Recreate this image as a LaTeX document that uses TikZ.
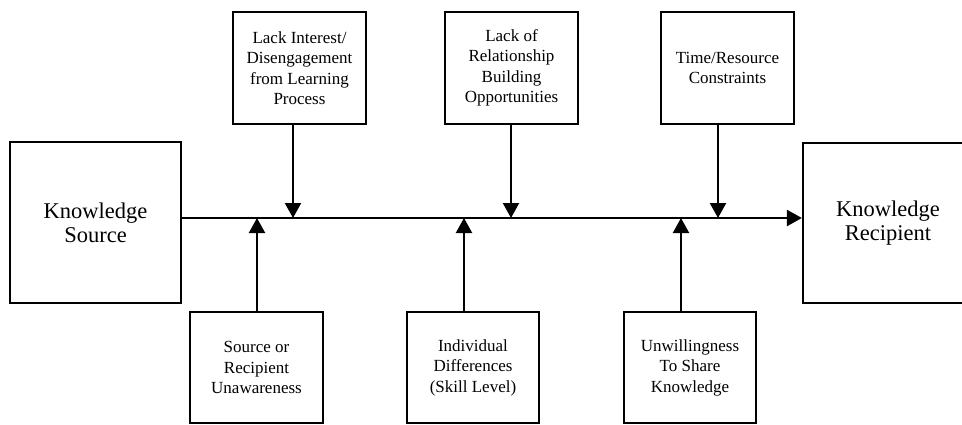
\documentclass[tikz,border=0pt]{standalone}
\usepackage{fontspec}
\setmainfont{Liberation Serif}
\usetikzlibrary{arrows.meta}

\begin{document}
\begin{tikzpicture}[x=1pt, y=-1pt,
    box/.style = {draw, line width=2.2pt, align=center, inner sep=0pt,
        font=\fontsize{17}{20.5}\selectfont, minimum width=133pt, minimum height=112pt},
    bigbox/.style = {draw, line width=2.2pt, align=center, inner sep=0pt,
        font=\fontsize{22.5}{24}\selectfont, minimum width=171pt, minimum height=161pt},
    arr/.style = {line width=2.2pt, -{Triangle[length=15pt, width=16pt]}}]
    \useasboundingbox (0,0) rectangle (962,424);
    \clip (0,0) rectangle (962,424);

    \node[bigbox] (src) at (95.5,222.5) {Knowledge\\Source};
    \node[bigbox, minimum width=170pt, minimum height=160pt] (rcp) at (888,223) {Knowledge\\Recipient};

    \node[box] (t1) at (299.5,68) {Lack Interest/\\Disengagement\\from Learning\\Process};
    \node[box] (t2) at (511.5,68) {Lack of\\Relationship\\Building\\Opportunities};
    \node[box] (t3) at (727.5,68) {Time/Resource\\Constraints};

    \node[box, minimum height=111pt] (b1) at (256.5,367.5) {Source or\\Recipient\\Unawareness};
    \node[box, minimum width=132pt, minimum height=111pt] (b2) at (473,367.5) {Individual\\Differences\\(Skill Level)};
    \node[box, minimum width=132pt, minimum height=111pt] (b3) at (690,367.5) {Unwillingness\\To Share\\Knowledge};

    \coordinate (d1) at (293,218);
    \coordinate (d2) at (511,218);
    \coordinate (d3) at (718,218);
    \coordinate (u1) at (257,218);
    \coordinate (u2) at (464,218);
    \coordinate (u3) at (681,218);

    \draw[arr] (src.east |- d1) -- (rcp.west |- d1);

    \draw[arr] (d1 |- t1.south) -- (d1);
    \draw[arr] (d2 |- t2.south) -- (d2);
    \draw[arr] (d3 |- t3.south) -- (d3);

    \draw[arr] (u1 |- b1.north) -- (u1);
    \draw[arr] (u2 |- b2.north) -- (u2);
    \draw[arr] (u3 |- b3.north) -- (u3);

\end{tikzpicture}
\end{document}
